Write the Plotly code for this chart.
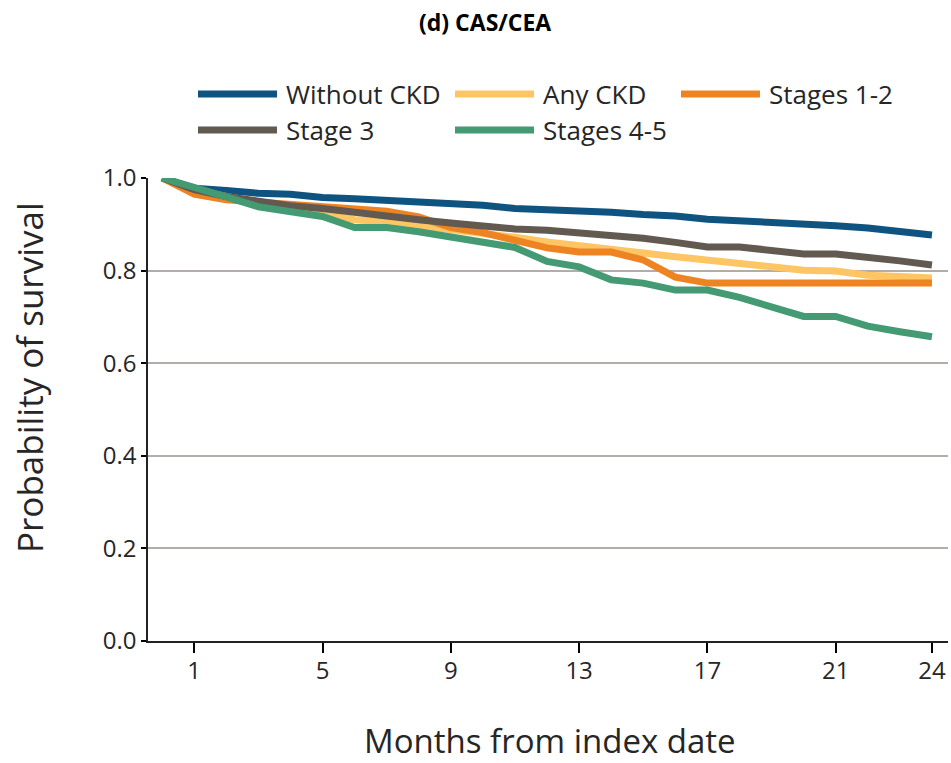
import plotly.graph_objects as go

# Months from index date
months = list(range(0, 25))

# Kaplan-Meier survival probabilities by CKD status
without_ckd = [1.0, 0.978, 0.973, 0.967, 0.965, 0.958, 0.955, 0.952, 0.948, 0.946,
               0.941, 0.934, 0.932, 0.930, 0.926, 0.921, 0.918, 0.911, 0.908, 0.902,
               0.899, 0.897, 0.892, 0.885, 0.877]
any_ckd = [1.0, 0.975, 0.960, 0.947, 0.935, 0.925, 0.910, 0.905, 0.897, 0.889,
           0.882, 0.872, 0.862, 0.855, 0.846, 0.838, 0.830, 0.823, 0.816, 0.808,
           0.801, 0.799, 0.790, 0.787, 0.784]
stages_1_2 = [1.0, 0.965, 0.953, 0.948, 0.945, 0.940, 0.934, 0.928, 0.916, 0.893,
              0.882, 0.866, 0.849, 0.840, 0.840, 0.823, 0.786, 0.773, 0.773, 0.773,
              0.773, 0.773, 0.773, 0.773, 0.773]
stage_3 = [1.0, 0.975, 0.960, 0.950, 0.940, 0.934, 0.925, 0.918, 0.910, 0.903,
           0.895, 0.890, 0.887, 0.882, 0.876, 0.870, 0.861, 0.851, 0.851, 0.842,
           0.836, 0.836, 0.830, 0.821, 0.812]
stages_4_5 = [1.0, 0.978, 0.959, 0.938, 0.928, 0.917, 0.893, 0.893, 0.884, 0.873,
              0.864, 0.850, 0.820, 0.808, 0.780, 0.773, 0.758, 0.758, 0.742, 0.720,
              0.701, 0.701, 0.680, 0.668, 0.657]

series_names = ["Without CKD", "Any CKD", "Stages 1-2", "Stage 3", "Stages 4-5"]
series_values = [without_ckd, any_ckd, stages_1_2, stage_3, stages_4_5]
series_colors = ["#0f5480", "#fec565", "#ee8321", "#625950", "#449a72"]

x_tick_vals = [1, 5, 9, 13, 17, 21, 24]
y_tick_vals = [0.0, 0.2, 0.4, 0.6, 0.8, 1.0]

FONT = "Open Sans"
W, H = 951, 763
ML, MR, MT, MB = 148, 3, 178, 122
PW, PH = W - ML - MR, H - MT - MB

fig = go.Figure()
for name, vals, color in zip(series_names, series_values, series_colors):
    fig.add_trace(go.Scatter(
        x=months, y=vals, name=name, mode="lines",
        line=dict(color=color, width=7), showlegend=False,
    ))

# Hand-drawn legend with long line samples, two rows
def px_to_paper(px, py):
    return (px - ML) / PW, (H - MB - py) / PH

legend_slots = [(198, 94), (455, 94), (681, 94), (198, 130), (455, 130)]
shapes = []
annotations = []
for (lx, ly), name, color in zip(legend_slots, series_names, series_colors):
    x0, y0 = px_to_paper(lx, ly)
    x1, _ = px_to_paper(lx + 79, ly)
    shapes.append(dict(type="line", xref="paper", yref="paper",
                       x0=x0, x1=x1, y0=y0, y1=y0,
                       line=dict(color=color, width=7)))
    tx, _ = px_to_paper(lx + 86, ly)
    annotations.append(dict(text=name, xref="paper", yref="paper", x=tx, y=y0,
                            xanchor="left", yanchor="middle", showarrow=False,
                            font=dict(family=FONT, size=26, color="#262626")))

# Title and axis titles
annotations.append(dict(text="<b>(d) CAS/CEA</b>", xref="paper", yref="paper",
                        x=(485 - ML) / PW, y=(H - MB - 22) / PH,
                        xanchor="center", yanchor="middle", showarrow=False,
                        font=dict(family=FONT, size=23, color="#000000")))
annotations.append(dict(text="Probability of survival", xref="paper", yref="paper",
                        x=(29 - ML) / PW, y=(H - MB - 378) / PH, textangle=-90,
                        xanchor="center", yanchor="middle", showarrow=False,
                        font=dict(family=FONT, size=35, color="#262626")))
annotations.append(dict(text="Months from index date", xref="paper", yref="paper",
                        x=(550 - ML) / PW, y=(H - MB - 740) / PH,
                        xanchor="center", yanchor="middle", showarrow=False,
                        font=dict(family=FONT, size=33, color="#262626")))

fig.update_layout(
    width=W, height=H,
    margin=dict(l=ML, r=MR, t=MT, b=MB, pad=0),
    paper_bgcolor="white", plot_bgcolor="white",
    shapes=shapes, annotations=annotations,
    font=dict(family=FONT, color="#262626"),
)
fig.update_xaxes(
    range=[-0.44, 24.5], tickvals=x_tick_vals, ticktext=[str(v) for v in x_tick_vals],
    ticks="outside", ticklen=10, tickwidth=1.5, tickcolor="#000000",
    ticklabelstandoff=-3,
    showline=True, linecolor="#222222", linewidth=1.5,
    showgrid=False, zeroline=False,
    tickfont=dict(family=FONT, size=24, color="#262626"),
)
fig.update_yaxes(
    range=[0, 1.0], tickvals=y_tick_vals, ticktext=[f"{v:.1f}" for v in y_tick_vals],
    ticks="outside", ticklen=5, tickwidth=1.5, tickcolor="#000000",
    showline=True, linecolor="#222222", linewidth=1.5,
    showgrid=True, gridcolor="#b4aca8", gridwidth=2, zeroline=False,
    tickfont=dict(family=FONT, size=24, color="#262626"),
)

fig.write_html("out.html")
